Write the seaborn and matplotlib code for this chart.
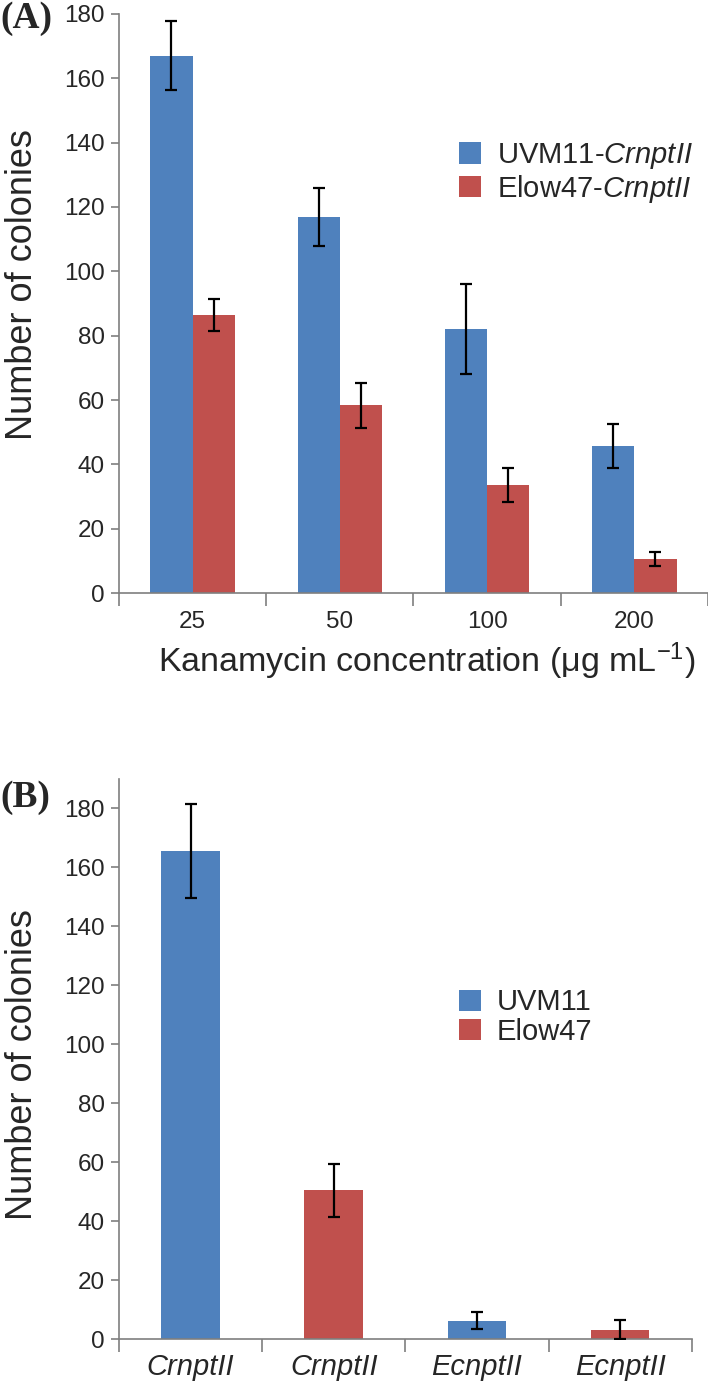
import numpy as np
import pandas as pd
import matplotlib
matplotlib.use("Agg")
import matplotlib.pyplot as plt
import seaborn as sns
from matplotlib.ticker import FixedLocator

# ---- data ----
conc_labels = ["25", "50", "100", "200"]
uvm_vals = [167, 117, 82, 45.7]
uvm_err = [10.7, 9, 14, 6.7]
elow_vals = [86.3, 58.4, 33.6, 10.6]
elow_err = [5, 7, 5.2, 2.2]
series_a = ["UVM11-$\\mathit{CrnptII}$", "Elow47-$\\mathit{CrnptII}$"]

gene_labels = ["CrnptII", "CrnptII", "EcnptII", "EcnptII"]
strain_b = ["UVM11", "Elow47", "UVM11", "Elow47"]
b_vals = [165.6, 50.4, 6.2, 3.2]
b_err = [16, 9, 2.9, 3.2]

blue = "#4F81BD"
red = "#C0504D"

sns.set_theme(style="white")
plt.rcParams["font.family"] = ["Liberation Sans", "DejaVu Sans"]
plt.rcParams["mathtext.fontset"] = "custom"
plt.rcParams["mathtext.rm"] = "Liberation Sans"
plt.rcParams["mathtext.it"] = "Liberation Sans:italic"

fig = plt.figure(figsize=(7.08, 13.97), dpi=100)
axA = fig.add_axes([0.168, 0.5755, 0.832, 0.4145])
axB = fig.add_axes([0.168, 0.0415, 0.809, 0.401])

axis_col = "#7f7f7f"

# ---- panel A ----
dfA = pd.DataFrame({
    "conc": conc_labels * 2,
    "val": uvm_vals + elow_vals,
    "err": uvm_err + elow_err,
    "series": [series_a[0]] * 4 + [series_a[1]] * 4,
})
sns.barplot(data=dfA, x="conc", y="val", hue="series", palette=[blue, red],
            width=0.573, errorbar=None, ax=axA, saturation=1, linewidth=0)
for cont, errs in zip(axA.containers, [uvm_err, elow_err]):
    xs = [p.get_x() + p.get_width() / 2 for p in cont.patches]
    hs = [p.get_height() for p in cont.patches]
    axA.errorbar(xs, hs, yerr=errs, fmt="none", ecolor="black", elinewidth=1.6,
                 capsize=4.5, capthick=1.6, zorder=5)
axA.set_ylim(0, 180)
axA.set_xlim(-0.5, 3.5)
axA.set_yticks(np.arange(0, 181, 20))
axA.set_xlabel("Kanamycin concentration (μg mL$^{\\mathregular{-1}}$)", fontsize=24.5)
axA.xaxis.set_label_coords(0.523, -0.082)
axA.set_ylabel("Number of colonies", fontsize=26)
axA.yaxis.set_label_coords(-0.134, 0.532)
axA.get_legend().remove()
handlesA, labelsA = axA.get_legend_handles_labels()
fig.legend(handlesA, labelsA, loc="upper left", bbox_to_anchor=(0.648, 0.899),
           frameon=False, fontsize=21, handlelength=0.75, handleheight=0.75,
           handletextpad=0.55, labelspacing=0.05, borderaxespad=0, borderpad=0)

# ---- panel B ----
dfB = pd.DataFrame({
    "pos": ["a", "b", "c", "d"],
    "val": b_vals,
    "err": b_err,
    "strain": strain_b,
})
sns.barplot(data=dfB, x="pos", y="val", hue="strain", palette=[blue, red], dodge=False,
            width=0.41, errorbar=None, ax=axB, saturation=1, linewidth=0)
xsB, hsB = [], []
for p in axB.patches:
    if p.get_height() > 0 and p.get_width() > 0:
        xsB.append(p.get_x() + p.get_width() / 2)
        hsB.append(p.get_height())
order = np.argsort(xsB)
xsB = [xsB[i] for i in order]
hsB = [hsB[i] for i in order]
axB.errorbar(xsB, hsB, yerr=b_err, fmt="none", ecolor="black", elinewidth=1.6,
             capsize=4.5, capthick=1.6, zorder=5)
axB.set_ylim(0, 190)
axB.set_xlim(-0.5, 3.5)
axB.set_yticks(np.arange(0, 181, 20))
axB.set_xticks(range(4))
axB.set_xticklabels(gene_labels, fontstyle="italic")
axB.set_xlabel("")
axB.set_ylabel("Number of colonies", fontsize=26)
axB.yaxis.set_label_coords(-0.1375, 0.49)
axB.get_legend().remove()
handlesB, labelsB = axB.get_legend_handles_labels()
fig.legend(handlesB, labelsB, loc="upper left", bbox_to_anchor=(0.648, 0.2925),
           frameon=False, fontsize=21, handlelength=0.75, handleheight=0.75,
           handletextpad=0.55, labelspacing=0.05, borderaxespad=0, borderpad=0)

for ax in (axA, axB):
    sns.despine(ax=ax)
    for s in ("left", "bottom"):
        ax.spines[s].set_color(axis_col)
        ax.spines[s].set_linewidth(1.2)
    ax.tick_params(axis="y", which="major", left=True, length=6, width=1.2,
                   color=axis_col, labelsize=17.5, pad=4)
    ax.tick_params(axis="x", which="major", bottom=True, length=0, labelsize=17.5, pad=13)
    ax.xaxis.set_minor_locator(FixedLocator([-0.5, 0.5, 1.5, 2.5, 3.5]))
    ax.tick_params(axis="x", which="minor", bottom=True, length=9, width=1.2,
                   color=axis_col)
axB.tick_params(axis="x", which="major", labelsize=21, pad=10)

fig.text(0.0, 0.999, "(A)", fontsize=27, fontweight="bold", family="Liberation Serif",
         va="top", ha="left")
fig.text(0.0, 0.442, "(B)", fontsize=27, fontweight="bold", family="Liberation Serif",
         va="top", ha="left")

fig.savefig("out.png", dpi=100)
